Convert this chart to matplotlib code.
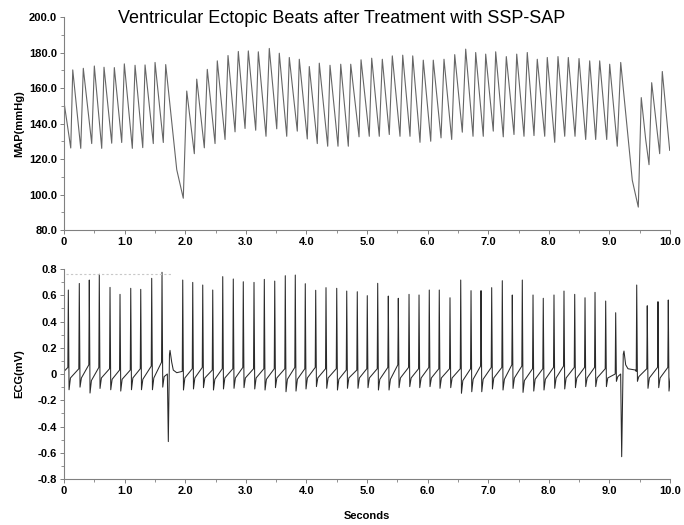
import numpy as np
import matplotlib
matplotlib.use('Agg')
import matplotlib.pyplot as plt
from matplotlib.ticker import MultipleLocator, FixedLocator, FixedFormatter

plt.rcParams['font.family'] = ['Liberation Sans', 'DejaVu Sans']

TITLE = 'Ventricular Ectopic Beats after Treatment with SSP-SAP'

# arterial pressure trace, troughs and peaks (s, mmHg)
bp_time = [0.0, 0.111, 0.144, 0.276, 0.318, 0.457, 0.500, 0.622, 0.660, 0.787, 0.830,
           0.952, 0.995, 1.127, 1.172, 1.299, 1.337, 1.473, 1.502, 1.638, 1.678, 1.860,
           1.968, 2.025, 2.150, 2.190, 2.315, 2.364, 2.492, 2.529, 2.657, 2.706, 2.822,
           2.876, 2.987, 3.041, 3.163, 3.206, 3.333, 3.387, 3.510, 3.552, 3.675, 3.717,
           3.849, 3.882, 4.014, 4.047, 4.179, 4.212, 4.351, 4.389, 4.521, 4.566, 4.691,
           4.731, 4.868, 4.901, 5.037, 5.077, 5.202, 5.252, 5.367, 5.417, 5.544, 5.589,
           5.709, 5.754, 5.874, 5.928, 6.051, 6.093, 6.221, 6.270, 6.397, 6.447, 6.572,
           6.628, 6.749, 6.793, 6.918, 6.958, 7.083, 7.123, 7.248, 7.298, 7.425, 7.470,
           7.590, 7.644, 7.755, 7.809, 7.932, 7.974, 8.097, 8.151, 8.262, 8.321, 8.432,
           8.498, 8.608, 8.674, 8.773, 8.839, 8.955, 9.004, 9.129, 9.186, 9.377, 9.476,
           9.525, 9.598, 9.653, 9.697, 9.829, 9.872, 9.994]
bp_mmhg = [152, 126.2, 170.2, 126, 171.1, 128.7, 172.4, 126, 171.7, 128.9, 171.5,
           129.3, 173.6, 126, 172.8, 126.4, 173, 128.7, 174.4, 129.3, 173.2, 114,
           97.9, 158.3, 123, 165, 126.3, 170.5, 128.7, 175.3, 131, 178.3, 135.3,
           180.6, 137.2, 180.9, 136.2, 180.4, 132.8, 182.3, 137, 179.6, 132.8, 177.2,
           135.7, 176.2, 131.3, 172.1, 128.7, 174, 127.2, 172.8, 127.2, 173.4, 127.2,
           173.4, 132.5, 175.9, 132.8, 176.8, 132.8, 176.2, 133.8, 178.1, 132.8, 178.5,
           132.8, 178.1, 129.4, 175.7, 130, 175.7, 131.9, 176.2, 131, 178.8, 135.1,
           181.9, 132.8, 180, 132.8, 179.1, 135.7, 180.4, 132.5, 177.7, 133.8, 179.1,
           132.8, 180, 133.2, 176.2, 132.8, 177.2, 129.4, 177.7, 132.8, 177.2, 132.8,
           176.6, 131, 175.3, 131, 175.3, 131, 173.4, 127.2, 174.4, 108, 92.9,
           154.6, 131, 116.8, 163, 123, 169.3, 124.9]

# ECG normal beats: R time, R height, S depth, level before R, level after S (mV)
r_time = [0.071, 0.252, 0.417, 0.582, 0.759, 0.924, 1.101, 1.266, 1.447, 1.617,
          1.959, 2.124, 2.289, 2.454, 2.619, 2.793, 2.958, 3.135, 3.305, 3.477,
          3.651, 3.816, 3.981, 4.153, 4.323, 4.500, 4.665, 4.839, 5.004, 5.176,
          5.351, 5.516, 5.693, 5.858, 6.027, 6.192, 6.369, 6.546, 6.716, 6.881,
          7.057, 7.232, 7.397, 7.562, 7.739, 7.908, 8.085, 8.250, 8.427, 8.597,
          8.762, 8.938, 9.103, 9.450, 9.624, 9.801, 9.971]
r_mv = [0.64, 0.69, 0.716, 0.76, 0.66, 0.607, 0.653, 0.645, 0.729, 0.775,
        0.716, 0.698, 0.678, 0.64, 0.742, 0.724, 0.703, 0.698, 0.721, 0.708,
        0.749, 0.754, 0.688, 0.638, 0.658, 0.653, 0.632, 0.627, 0.597, 0.691,
        0.594, 0.577, 0.607, 0.602, 0.64, 0.64, 0.581, 0.716, 0.635, 0.635,
        0.658, 0.711, 0.602, 0.716, 0.602, 0.577, 0.602, 0.632, 0.607, 0.581,
        0.622, 0.556, 0.467, 0.678, 0.52, 0.551, 0.564]
s_mv = [-0.12, -0.10, -0.145, -0.11, -0.12, -0.13, -0.12, -0.12, -0.12, -0.10,
        -0.122, -0.114, -0.104, -0.122, -0.114, -0.109, -0.104, -0.114, -0.122, -0.104,
        -0.135, -0.13, -0.114, -0.096, -0.109, -0.122, -0.109, -0.109, -0.104, -0.122,
        -0.122, -0.104, -0.096, -0.104, -0.096, -0.109, -0.104, -0.147, -0.135, -0.135,
        -0.114, -0.122, -0.11, -0.14, -0.13, -0.122, -0.109, -0.114, -0.104, -0.096,
        -0.096, -0.096, -0.056, -0.056, -0.109, -0.104, -0.13]
pre_mv = [0.05, 0.04, 0.07, 0.05, 0.04, 0.03, 0.03, 0.04, 0.06, 0.09,
          0.02, 0.04, 0.05, 0.03, 0.04, 0.04, 0.05, 0.04, 0.04, 0.04,
          0.04, 0.05, 0.04, 0.05, 0.04, 0.04, 0.03, 0.03, 0.04, 0.04,
          0.05, 0.07, 0.05, 0.04, 0.05, 0.04, 0.04, 0.04, 0.04, 0.06,
          0.05, 0.05, 0.07, 0.06, 0.04, 0.04, 0.05, 0.06, 0.05, 0.05,
          0.05, 0.04, 0.00, 0.02, 0.04, 0.05, 0.05]
post_mv = [-0.03, -0.03, -0.05, -0.03, -0.04, -0.04, -0.03, -0.04, -0.03, -0.02,
           -0.03, -0.03, -0.03, -0.04, -0.03, -0.03, -0.03, -0.03, -0.04, -0.03,
           -0.04, -0.04, -0.03, -0.03, -0.03, -0.04, -0.03, -0.03, -0.03, -0.04,
           -0.04, -0.03, -0.03, -0.03, -0.03, -0.03, -0.03, -0.05, -0.04, -0.04,
           -0.03, -0.04, -0.03, -0.05, -0.04, -0.04, -0.03, -0.03, -0.03, -0.03,
           -0.03, -0.03, -0.02, -0.02, -0.03, -0.03, -0.03]

# the two ectopic (PVC) complexes, read point by point
pvc1_time = [1.705, 1.721, 1.740, 1.749, 1.777, 1.803, 1.860]
pvc1_mv = [0.0, -0.515, 0.15, 0.18, 0.09, 0.03, 0.01]
pvc2_time = [9.185, 9.202, 9.228, 9.240, 9.268, 9.306, 9.433]
pvc2_mv = [0.0, -0.63, 0.15, 0.175, 0.07, 0.04, 0.03]
ecg_start = (0.0, 0.02)

# faint dotted marker line at top of ECG panel
marker_level = 0.76
marker_span = (0.04, 1.78)

# spike shape (seconds relative to R)
PRE_DT, S_DT, POST_DT = 0.008, 0.012, 0.035


def build_ecg():
    pts = [ecg_start]
    for t, r, s, pre, post in zip(r_time, r_mv, s_mv, pre_mv, post_mv):
        pts += [(t - PRE_DT, pre), (t, r), (t + S_DT, s), (t + POST_DT, post)]
    pts += list(zip(pvc1_time, pvc1_mv)) + list(zip(pvc2_time, pvc2_mv))
    pts.sort(key=lambda p: p[0])
    return np.array(pts)


def style_axis(ax):
    for side in ['top', 'right']:
        ax.spines[side].set_visible(False)
    for side in ['left', 'bottom']:
        ax.spines[side].set_color('#808080')
        ax.spines[side].set_linewidth(0.8)
    ax.tick_params(which='major', direction='out', length=3, width=0.7, color='#808080',
                   labelsize=8, pad=2)
    ax.tick_params(which='minor', direction='out', length=2, width=0.6, color='#808080')
    ax.set_xlim(0, 10)
    ax.xaxis.set_major_locator(FixedLocator(range(11)))
    ax.xaxis.set_major_formatter(FixedFormatter(['0'] + ['%.1f' % v for v in range(1, 11)]))
    ax.xaxis.set_minor_locator(MultipleLocator(0.5))
    for lab in ax.get_xticklabels() + ax.get_yticklabels():
        lab.set_fontweight('bold')


fig = plt.figure(figsize=(6.84, 5.25), dpi=100)
ax1 = fig.add_axes([0.0936, 0.5619, 0.886, 0.4057])
ax2 = fig.add_axes([0.0936, 0.0876, 0.886, 0.4])

# MAP panel
ax1.plot(bp_time, bp_mmhg, color='#666666', lw=0.8)
ax1.set_ylim(80, 200)
ax1.yaxis.set_major_locator(MultipleLocator(20))
ax1.yaxis.set_minor_locator(MultipleLocator(10))
ax1.yaxis.set_major_formatter(plt.FuncFormatter(lambda v, p: '%.1f' % v))
style_axis(ax1)
ax1.set_ylabel('MAP(mmHg)', fontsize=8, fontweight='bold')
ax1.yaxis.set_label_coords(-0.066, 0.5)

# ECG panel
ecg = build_ecg()
ax2.plot(ecg[:, 0], ecg[:, 1], color='#2a2a2a', lw=0.75)
ax2.hlines(marker_level, marker_span[0], marker_span[1], colors='#c8c8c8',
           linestyles=(0, (2, 2)), lw=0.8)
ax2.set_ylim(-0.8, 0.8)
ax2.yaxis.set_major_locator(FixedLocator(np.round(np.arange(-0.8, 0.81, 0.2), 1)))
ax2.yaxis.set_major_formatter(plt.FuncFormatter(lambda v, p: '0' if abs(v) < 1e-9 else '%.1f' % v))
ax2.yaxis.set_minor_locator(MultipleLocator(0.1))
style_axis(ax2)
ax2.set_ylabel('ECG(mV)', fontsize=8, fontweight='bold')
ax2.yaxis.set_label_coords(-0.066, 0.5)
ax2.set_xlabel('Seconds', fontsize=8, fontweight='bold')
ax2.xaxis.set_label_coords(0.5, -0.15)

fig.text(342 / 684, 1 - 22.7 / 525, TITLE, ha='center', va='baseline', fontsize=13)

fig.savefig('out.png', dpi=100)
